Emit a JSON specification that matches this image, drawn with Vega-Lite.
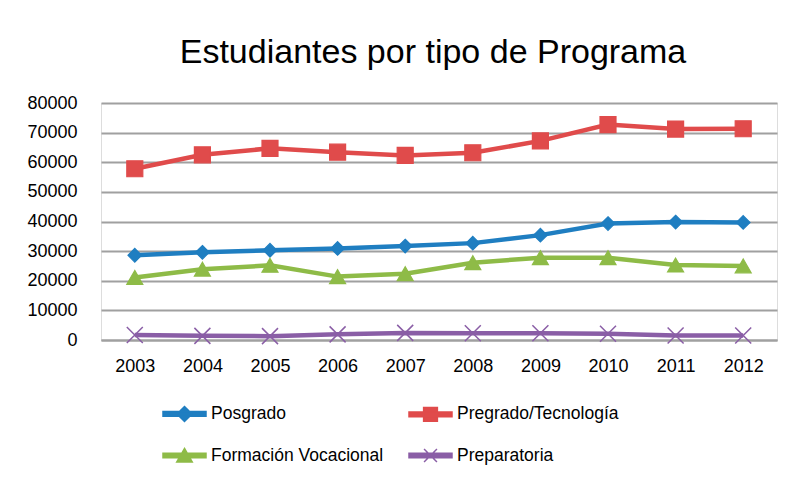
{
  "$schema": "https://vega.github.io/schema/vega-lite/v6.json",
  "width": 676,
  "height": 237,
  "autosize": {"type": "none"},
  "padding": {"left": 101, "top": 103, "right": 12, "bottom": 140},
  "background": "white",
  "title": {
    "text": "Estudiantes por tipo de Programa",
    "font": "Liberation Sans, Arial, sans-serif",
    "fontSize": 34,
    "fontWeight": "normal",
    "color": "#000000",
    "anchor": "middle",
    "dx": -6,
    "offset": 24
  },
  "data": {
    "values": [
      {"anio": "2003", "serie": "Posgrado", "valor": 28600},
      {"anio": "2004", "serie": "Posgrado", "valor": 29600},
      {"anio": "2005", "serie": "Posgrado", "valor": 30300},
      {"anio": "2006", "serie": "Posgrado", "valor": 30900},
      {"anio": "2007", "serie": "Posgrado", "valor": 31700},
      {"anio": "2008", "serie": "Posgrado", "valor": 32700},
      {"anio": "2009", "serie": "Posgrado", "valor": 35400},
      {"anio": "2010", "serie": "Posgrado", "valor": 39300},
      {"anio": "2011", "serie": "Posgrado", "valor": 39800},
      {"anio": "2012", "serie": "Posgrado", "valor": 39700},
      {"anio": "2003", "serie": "Pregrado/Tecnología", "valor": 57800},
      {"anio": "2004", "serie": "Pregrado/Tecnología", "valor": 62500},
      {"anio": "2005", "serie": "Pregrado/Tecnología", "valor": 64700},
      {"anio": "2006", "serie": "Pregrado/Tecnología", "valor": 63400},
      {"anio": "2007", "serie": "Pregrado/Tecnología", "valor": 62300},
      {"anio": "2008", "serie": "Pregrado/Tecnología", "valor": 63200},
      {"anio": "2009", "serie": "Pregrado/Tecnología", "valor": 67200},
      {"anio": "2010", "serie": "Pregrado/Tecnología", "valor": 72700},
      {"anio": "2011", "serie": "Pregrado/Tecnología", "valor": 71200},
      {"anio": "2012", "serie": "Pregrado/Tecnología", "valor": 71300},
      {"anio": "2003", "serie": "Formación Vocacional", "valor": 21100},
      {"anio": "2004", "serie": "Formación Vocacional", "valor": 23900},
      {"anio": "2005", "serie": "Formación Vocacional", "valor": 25200},
      {"anio": "2006", "serie": "Formación Vocacional", "valor": 21400},
      {"anio": "2007", "serie": "Formación Vocacional", "valor": 22400},
      {"anio": "2008", "serie": "Formación Vocacional", "valor": 26100},
      {"anio": "2009", "serie": "Formación Vocacional", "valor": 27800},
      {"anio": "2010", "serie": "Formación Vocacional", "valor": 27800},
      {"anio": "2011", "serie": "Formación Vocacional", "valor": 25300},
      {"anio": "2012", "serie": "Formación Vocacional", "valor": 25000},
      {"anio": "2003", "serie": "Preparatoria", "valor": 1700},
      {"anio": "2004", "serie": "Preparatoria", "valor": 1400},
      {"anio": "2005", "serie": "Preparatoria", "valor": 1300},
      {"anio": "2006", "serie": "Preparatoria", "valor": 1900},
      {"anio": "2007", "serie": "Preparatoria", "valor": 2400},
      {"anio": "2008", "serie": "Preparatoria", "valor": 2300},
      {"anio": "2009", "serie": "Preparatoria", "valor": 2300},
      {"anio": "2010", "serie": "Preparatoria", "valor": 2100},
      {"anio": "2011", "serie": "Preparatoria", "valor": 1500},
      {"anio": "2012", "serie": "Preparatoria", "valor": 1500}
    ]
  },
  "encoding": {
    "x": {
      "field": "anio",
      "type": "ordinal",
      "scale": {"type": "point", "padding": 0.5},
      "axis": {
        "title": null,
        "labelAngle": 0,
        "ticks": false,
        "grid": false,
        "domain": true,
        "domainColor": "#a0a0a0",
        "domainWidth": 2,
        "labelFont": "Liberation Sans, Arial, sans-serif",
        "labelFontSize": 18,
        "labelColor": "#000000",
        "labelPadding": 17
      }
    },
    "y": {
      "field": "valor",
      "type": "quantitative",
      "scale": {"domain": [0, 80000], "nice": false},
      "axis": {
        "title": null,
        "values": [0, 10000, 20000, 30000, 40000, 50000, 60000, 70000, 80000],
        "format": "d",
        "ticks": false,
        "domain": false,
        "grid": true,
        "gridColor": "#a0a0a0",
        "gridWidth": 2,
        "labelFont": "Liberation Sans, Arial, sans-serif",
        "labelFontSize": 18,
        "labelColor": "#000000",
        "labelPadding": 24
      }
    }
  },
  "layer": [
    {
      "mark": {"type": "line", "strokeWidth": 4.5},
      "encoding": {
        "color": {
          "field": "serie",
          "type": "nominal",
          "scale": {
            "domain": ["Posgrado", "Pregrado/Tecnología", "Formación Vocacional", "Preparatoria"],
            "range": ["#1f7ec1", "#e04b4b", "#8ebb47", "#8a5ea6"]
          },
          "legend": {
            "orient": "none",
            "legendX": 61,
            "legendY": 288,
            "direction": "horizontal",
            "columns": 2,
            "title": null,
            "padding": 0,
            "symbolSize": 1849,
            "symbolStrokeWidth": 1.5,
            "labelFont": "Liberation Sans, Arial, sans-serif",
            "labelFontSize": 17.5,
            "labelColor": "#000000",
            "labelLimit": 400,
            "labelOffset": 4,
            "columnPadding": 22,
            "rowPadding": 8,
            "encode": {
              "symbols": {
                "update": {
                  "shape": {"signal": "datum.value === 'Posgrado' ? 'M-1,-0.11H1V0.11H-1ZM0,-0.35L0.35,0L0,0.35L-0.35,0Z' : datum.value === 'Pregrado/Tecnología' ? 'M-1,-0.11H1V0.11H-1ZM-0.32,-0.32H0.32V0.32H-0.32Z' : datum.value === 'Formación Vocacional' ? 'M-1,-0.11H1V0.11H-1ZM0,-0.33L0.36,0.3H-0.36Z' : 'M-1,-0.11H1V0.11H-1ZM-0.3,-0.3L0.3,0.3M-0.3,0.3L0.3,-0.3'"},
                  "fill": {"signal": "scale('color', datum.value)"},
                  "stroke": {"signal": "scale('color', datum.value)"},
                  "strokeWidth": {"value": 1.5},
                  "opacity": {"value": 1}
                }
              }
            }
          }
        }
      }
    },
    {
      "transform": [{"filter": "datum.serie === 'Posgrado'"}],
      "mark": {"type": "point", "shape": "M0,-0.85L0.85,0L0,0.85L-0.85,0Z", "filled": true, "size": 256, "opacity": 1, "fill": "#1f7ec1", "stroke": "#1f7ec1", "strokeWidth": 1.2}
    },
    {
      "transform": [{"filter": "datum.serie === 'Pregrado/Tecnología'"}],
      "mark": {"type": "point", "shape": "square", "filled": true, "size": 256, "opacity": 1, "fill": "#e04b4b", "stroke": "#e04b4b", "strokeWidth": 1.2}
    },
    {
      "transform": [{"filter": "datum.serie === 'Formación Vocacional'"}],
      "mark": {"type": "point", "shape": "triangle-up", "filled": true, "size": 256, "opacity": 1, "fill": "#8ebb47", "stroke": "#8ebb47", "strokeWidth": 1.2}
    },
    {
      "transform": [{"filter": "datum.serie === 'Preparatoria'"}],
      "mark": {"type": "point", "shape": "M-1,-1L1,1M-1,1L1,-1", "filled": false, "size": 256, "opacity": 1, "stroke": "#8a5ea6", "strokeWidth": 1.5}
    }
  ]
}
